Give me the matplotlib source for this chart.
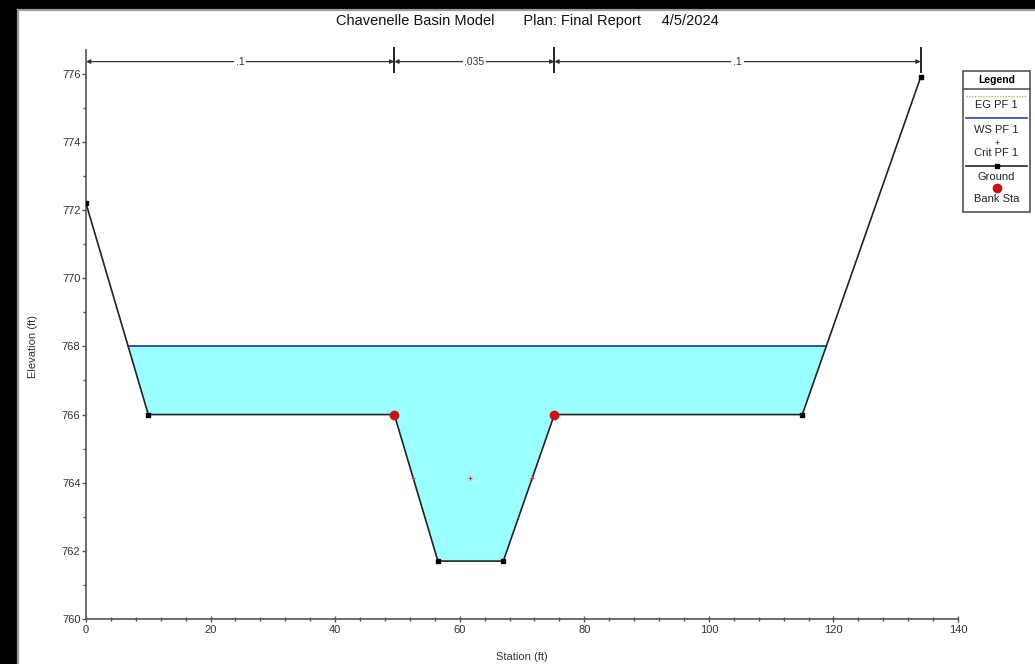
import numpy as np
import matplotlib
matplotlib.use("Agg")
import matplotlib.pyplot as plt
from matplotlib.patches import Rectangle
from matplotlib.lines import Line2D

plt.rcParams['font.family'] = ['Liberation Sans', 'DejaVu Sans']

# Cross-section geometry
ground_x = [0.0, 10.0, 49.5, 56.5, 67.0, 75.2, 115.0, 134.0]
ground_y = [772.2, 766.0, 766.0, 761.7, 761.7, 766.0, 766.0, 775.9]
bank_x = [49.5, 75.2]
bank_y = [766.0, 766.0]

# Profile PF 1
ws_elev = 768.0
crit_elev = 764.15
crit_x = [52.5, 61.6, 71.6]

# Manning's n regions
n_bounds = [0.0, 49.5, 75.2, 134.0]
n_labels = ['.1', '.035', '.1']

W, H = 1035, 664
fig = plt.figure(figsize=(W / 100, H / 100), dpi=100)
fig.patch.set_facecolor('black')

def fx(px):
    return px / W

def fy(py):
    return 1 - py / H

# White report panel
fig.add_artist(Rectangle((fx(18), -0.05), 1 - fx(18) + 0.01, fy(10) + 0.05,
                         transform=fig.transFigure, facecolor='white',
                         edgecolor='#9a9a9a', lw=1.6, zorder=0))

ax = fig.add_axes([fx(86), fy(619), fx(958) - fx(86), fy(50) - fy(619)])
ax.set_facecolor('none')
ax.set_xlim(0, 140)
ax.set_ylim(760, 776.7)

gx = np.array(ground_x)
gy = np.array(ground_y)

# Water surface extent where it meets the ground
def crossings(xs, ys, level):
    pts = []
    for i in range(len(xs) - 1):
        y0, y1 = ys[i] - level, ys[i + 1] - level
        if y0 * y1 < 0:
            pts.append(xs[i] + (xs[i + 1] - xs[i]) * y0 / (y0 - y1))
    return pts

cx = crossings(gx, gy, ws_elev)
ws_left, ws_right = cx[0], cx[-1]

ax.fill_between(gx, gy, ws_elev, where=gy < ws_elev, interpolate=True,
                facecolor='#99ffff', edgecolor='none', zorder=1)
ax.plot([ws_left, ws_right], [ws_elev, ws_elev], color='#24479a', lw=1.3, zorder=3)

ax.plot(gx, gy, color='#222222', lw=1.2, marker='s', ms=3.5,
        markerfacecolor='black', markeredgecolor='black', zorder=4)
ax.plot(bank_x, bank_y, 'o', color='#cc1111', ms=6, zorder=5)
ax.plot(crit_x, [crit_elev] * len(crit_x), '+', color='#d23a3a', ms=3.5, mew=0.8, zorder=5)

# Manning's n annotation along the top
y_arrow = 776.36
for i, lab in enumerate(n_labels):
    x0, x1 = n_bounds[i], n_bounds[i + 1]
    ax.annotate('', xy=(x1, y_arrow), xytext=(x0, y_arrow), xycoords='data',
                arrowprops=dict(arrowstyle='<|-|>', color='#333333', lw=0.9,
                                shrinkA=0, shrinkB=0, mutation_scale=6),
                annotation_clip=False, zorder=6)
    ax.text((x0 + x1) / 2, y_arrow, lab, fontsize=7.5, color='#333333', ha='center',
            va='center', bbox=dict(facecolor='white', edgecolor='none', pad=1.2),
            zorder=7, clip_on=False)
for xb in n_bounds[1:]:
    ax.plot([xb, xb], [776.06, 776.76], color='#222222', lw=1.4, clip_on=False, zorder=7)

# Axes styling
for s in ['top', 'right']:
    ax.spines[s].set_visible(False)
for s in ['left', 'bottom']:
    ax.spines[s].set_color('#555555')
    ax.spines[s].set_linewidth(1.2)

ax.set_xticks(np.arange(0, 141, 20))
ax.set_xticks(np.arange(0, 141, 4), minor=True)
ax.set_yticks(np.arange(760, 777, 2))
ax.set_yticks(np.arange(760, 777, 1), minor=True)
ax.tick_params(axis='x', which='major', direction='inout', length=5, width=1, colors='#555555',
               labelcolor='#333333', labelsize=8, pad=2)
ax.tick_params(axis='x', which='minor', direction='inout', length=3, width=1, colors='#555555')
ax.tick_params(axis='y', which='major', direction='out', length=3, width=1, colors='#555555',
               labelcolor='#333333', labelsize=8, pad=1)
ax.tick_params(axis='y', which='minor', direction='out', length=2, width=1, colors='#555555')

fig.text(fx(522), fy(657), 'Station (ft)', fontsize=8, color='#333333', ha='center', va='center')
fig.text(fx(33), fy(346), 'Elevation (ft)', fontsize=8, color='#333333', ha='center',
         va='center', rotation=90)

fig.text(fx(527), fy(21), 'Chavenelle Basin Model       Plan: Final Report     4/5/2024',
         fontsize=10.5, color='#111111', ha='center', va='center')

# Legend panel
lx0, lx1 = 963, 1030
fig.add_artist(Rectangle((fx(lx0), fy(212)), fx(lx1) - fx(lx0), fy(71) - fy(212),
                         transform=fig.transFigure, facecolor='white', edgecolor='#555555',
                         lw=1.2, zorder=8))
fig.add_artist(Line2D([fx(lx0), fx(lx1)], [fy(89), fy(89)], transform=fig.transFigure,
                      color='#555555', lw=1.2, zorder=9))
fig.text(fx((lx0 + lx1) / 2), fy(80), 'Legend', fontsize=7.5, fontweight='bold',
         ha='center', va='center', zorder=10)

sx0, sx1 = fx(966), fx(1027)
fig.add_artist(Line2D([sx0, sx1], [fy(96), fy(96)], transform=fig.transFigure,
                      color='#b5b56a', lw=1.0, ls=(0, (1, 1)), zorder=9))
fig.add_artist(Line2D([sx0, sx1], [fy(118), fy(118)], transform=fig.transFigure,
                      color='#24479a', lw=1.2, zorder=9))
fig.add_artist(Line2D([fx(996.5)], [fy(142)], transform=fig.transFigure, marker='+',
                      color='#d23a3a', ms=3.5, mew=0.8, zorder=9))
fig.add_artist(Line2D([sx0, sx1], [fy(166), fy(166)], transform=fig.transFigure,
                      color='#222222', lw=1.2, zorder=9))
fig.add_artist(Line2D([fx(996.5)], [fy(166)], transform=fig.transFigure, marker='s',
                      color='black', ms=3.5, zorder=9))
fig.add_artist(Line2D([fx(996.5)], [fy(188)], transform=fig.transFigure, marker='o',
                      color='#cc1111', ms=6, zorder=9))
for py, lab in [(105, 'EG PF 1'), (130, 'WS PF 1'), (153, 'Crit PF 1'),
                (177, 'Ground'), (199, 'Bank Sta')]:
    fig.text(fx(996.5), fy(py), lab, fontsize=8, color='#222222', ha='center',
             va='center', zorder=10)

fig.savefig('out.png', dpi=100, facecolor=fig.get_facecolor())
